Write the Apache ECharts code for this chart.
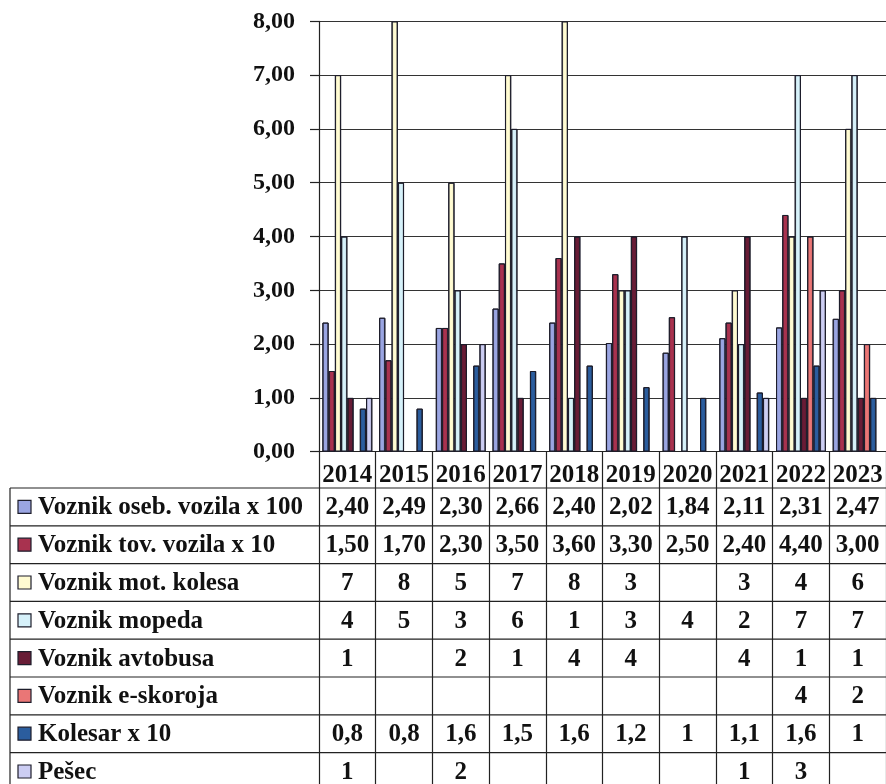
<!DOCTYPE html>
<html>
<head>
<meta charset="utf-8">
<script src="https://cdn.jsdelivr.net/npm/echarts@6/dist/echarts.min.js"></script>
<style>
  html, body { margin:0; padding:0; background:#fff; }
  #chart { width:886px; height:784px; }
</style>
</head>
<body>
<div id="chart"></div>
<script>
// ---- data ----
const years = ['2014','2015','2016','2017','2018','2019','2020','2021','2022','2023'];
const seriesNames = ['Voznik oseb. vozila x 100','Voznik tov. vozila x 10','Voznik mot. kolesa','Voznik mopeda','Voznik avtobusa','Voznik e-skoroja','Kolesar x 10','Pešec'];
const osebVozila = [2.40,2.49,2.30,2.66,2.40,2.02,1.84,2.11,2.31,2.47];
const tovVozila  = [1.50,1.70,2.30,3.50,3.60,3.30,2.50,2.40,4.40,3.00];
const motKolesa  = [7,8,5,7,8,3,null,3,4,6];
const mopeda     = [4,5,3,6,1,3,4,2,7,7];
const avtobus    = [1,null,2,1,4,4,null,4,1,1];
const eSkiro     = [null,null,null,null,null,null,null,null,4,2];
const kolesar    = [0.8,0.8,1.6,1.5,1.6,1.2,1,1.1,1.6,1];
const pesec      = [1,null,2,null,null,null,null,1,3,null];
const yTicks     = [0,1,2,3,4,5,6,7,8];

const seriesData = [osebVozila,tovVozila,motKolesa,mopeda,avtobus,eSkiro,kolesar,pesec];
const decimals   = [2,2,null,null,null,null,null,null];
const colors = ['#9aa5e2','#a8324f','#fffbd2','#d6f1fa','#681c36','#ea7676','#2b5d9e','#cccdf3'];

const FONT = "'Liberation Serif','Times New Roman',serif";

function fmt(v, d) {
  if (v === null || v === undefined) return '';
  return (d === null ? String(v) : v.toFixed(d)).replace('.', ',');
}
function shade(hex, f) {
  const n = parseInt(hex.slice(1), 16);
  let r = (n >> 16) & 255, g = (n >> 8) & 255, b = n & 255;
  r = Math.round(r * f); g = Math.round(g * f); b = Math.round(b * f);
  return 'rgb(' + r + ',' + g + ',' + b + ')';
}

const chart = echarts.init(document.getElementById('chart'));
const GRID_TOP = 21.3, GRID_BOTTOM_Y = 451.7;

chart.setOption({
  animation: false,
  backgroundColor: '#ffffff',
  grid: { left: 319, right: -2, top: GRID_TOP, height: GRID_BOTTOM_Y - GRID_TOP, containLabel: false },
  xAxis: {
    type: 'category',
    data: years,
    axisLine: { show: true, lineStyle: { color: '#222', width: 1.2 } },
    axisTick: { show: true, interval: 0, length: 340, lineStyle: { color: '#222', width: 1.2 } },
    axisLabel: { interval: 0, fontFamily: FONT, fontWeight: 'bold', fontSize: 25, color: '#111', margin: 11 },
    splitLine: { show: false }
  },
  yAxis: {
    type: 'value',
    min: yTicks[0], max: yTicks[yTicks.length - 1], interval: 1,
    axisLine: { show: true, lineStyle: { color: '#222', width: 1.2 } },
    axisTick: { show: true, length: 9, lineStyle: { color: '#222', width: 1.2 } },
    axisLabel: { fontFamily: FONT, fontWeight: 'bold', fontSize: 24, color: '#111', margin: 24,
                 formatter: v => fmt(v, 2) },
    splitLine: { show: true, lineStyle: { color: '#333', width: 1.2 } }
  },
  series: seriesNames.map((name, i) => ({
    name: name,
    type: 'bar',
    data: seriesData[i],
    barGap: '0%',
    barCategoryGap: '12%',
    itemStyle: {
      color: new echarts.graphic.LinearGradient(0, 0, 1, 0, [
        { offset: 0, color: shade(colors[i], 0.7) },
        { offset: 0.35, color: colors[i] },
        { offset: 0.65, color: colors[i] },
        { offset: 1, color: shade(colors[i], 0.65) }
      ]),
      borderColor: '#1d1d2b',
      borderWidth: 1
    }
  }))
});

// ---- data table drawn below the axis ----
const TABLE_TOP = 488, ROW_H = 37.8, TABLE_LEFT = 10;
const step = chart.convertToPixel({ xAxisIndex: 0 }, 1) - chart.convertToPixel({ xAxisIndex: 0 }, 0);
const lastEdge = chart.convertToPixel({ xAxisIndex: 0 }, years.length - 1) + step / 2;
const graphics = [];
for (let r = 0; r <= seriesNames.length; r++) {
  const y = TABLE_TOP + r * ROW_H;
  graphics.push({ type: 'line', silent: true, shape: { x1: TABLE_LEFT, y1: y, x2: lastEdge + 5, y2: y },
                  style: { stroke: '#222', lineWidth: 1.2 } });
}
graphics.push({ type: 'line', silent: true, shape: { x1: TABLE_LEFT, y1: TABLE_TOP, x2: TABLE_LEFT, y2: 800 },
                style: { stroke: '#222', lineWidth: 1.2 } });
seriesNames.forEach((name, r) => {
  const cy = TABLE_TOP + r * ROW_H + ROW_H / 2;
  graphics.push({ type: 'rect', silent: true, shape: { x: 18, y: cy - 6.5, width: 13, height: 13 },
                  style: { fill: colors[r], stroke: '#1d1d2b', lineWidth: 1.2 } });
  graphics.push({ type: 'text', silent: true, x: 38, y: cy + 1,
                  style: { text: name, font: 'bold 25px ' + FONT, fill: '#111', textAlign: 'left', textVerticalAlign: 'middle' } });
  seriesData[r].forEach((v, c) => {
    const cx = chart.convertToPixel({ xAxisIndex: 0 }, c);
    const t = fmt(v, decimals[r]);
    if (t) {
      graphics.push({ type: 'text', silent: true, x: cx, y: cy + 1,
                      style: { text: t, font: 'bold 25px ' + FONT, fill: '#111', textAlign: 'center', textVerticalAlign: 'middle' } });
    }
  });
});
chart.setOption({ graphic: graphics });
</script>
</body>
</html>
